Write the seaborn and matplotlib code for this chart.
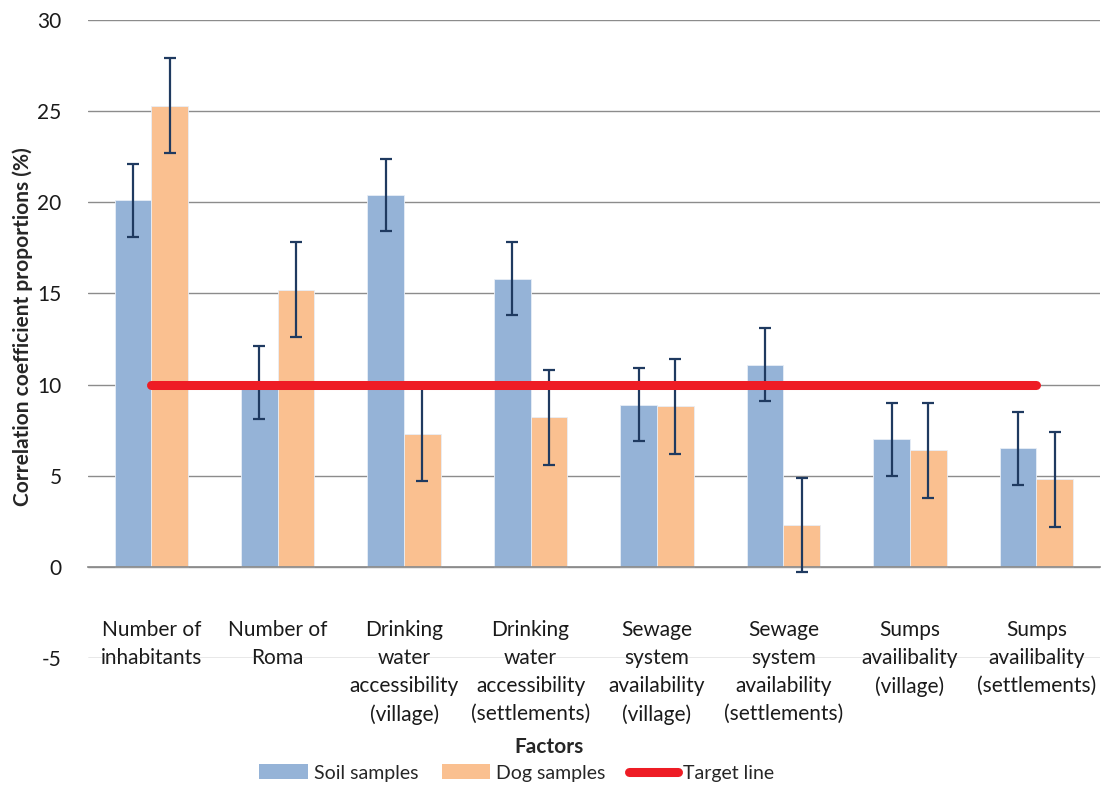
import pandas as pd
import numpy as np
import matplotlib
matplotlib.use("Agg")
import matplotlib.pyplot as plt
import seaborn as sns
from matplotlib.patches import Patch
from matplotlib.lines import Line2D

# data
factors = [
    "Number of\ninhabitants",
    "Number of\nRoma",
    "Drinking\nwater\naccessibility\n(village)",
    "Drinking\nwater\naccessibility\n(settlements)",
    "Sewage\nsystem\navailability\n(village)",
    "Sewage\nsystem\navailability\n(settlements)",
    "Sumps\navailibality\n(village)",
    "Sumps\navailibality\n(settlements)",
]
soil_values = [20.1, 10.1, 20.4, 15.8, 8.9, 11.1, 7.0, 6.5]
dog_values = [25.3, 15.2, 7.3, 8.2, 8.8, 2.3, 6.4, 4.8]
soil_err = [2.0, 2.0, 2.0, 2.0, 2.0, 2.0, 2.0, 2.0]
dog_err = [2.6, 2.6, 2.6, 2.6, 2.6, 2.6, 2.6, 2.6]
target_value = 10

SOIL_COLOR = "#95b3d7"
DOG_COLOR = "#fac090"
ERR_COLOR = "#1f3a60"
TARGET_COLOR = "#ee1c25"
GRID_COLOR = "#8c8c8c"
FS = 15

df = pd.DataFrame({
    "factor": factors * 2,
    "value": soil_values + dog_values,
    "series": ["Soil samples"] * len(factors) + ["Dog samples"] * len(factors),
})

sns.set_theme(style="white")
plt.rcParams["font.family"] = ["Lato", "DejaVu Sans"]
plt.rcParams["axes.unicode_minus"] = False

fig = plt.figure(figsize=(11.04, 7.86), dpi=100)
ax = fig.add_axes([0.0797, 0.1628, 0.9163, 0.8118])

sns.barplot(data=df, x="factor", y="value", hue="series",
            palette=[SOIL_COLOR, DOG_COLOR], saturation=1, width=0.58,
            errorbar=None, edgecolor="#e8eef6", linewidth=0.6, legend=False,
            ax=ax)

# custom error bars on the bar centres
for container, errs in zip(ax.containers, [soil_err, dog_err]):
    xs = [p.get_x() + p.get_width() / 2 for p in container]
    ys = [p.get_height() for p in container]
    ax.errorbar(xs, ys, yerr=errs, fmt="none", ecolor=ERR_COLOR,
                elinewidth=1.6, capsize=4.5, capthick=1.6, zorder=4)

# target line spanning first to last category
xpos = np.arange(len(factors))
ax.plot([xpos[0], xpos[-1]], [target_value, target_value], color=TARGET_COLOR,
        linewidth=6.5, solid_capstyle="round", zorder=5)

ax.set_ylim(-5, 30)
ax.set_xlim(-0.5, len(factors) - 0.5)
ax.set_yticks(range(-5, 31, 5))
ax.yaxis.grid(True, color=GRID_COLOR, linewidth=1)
ax.set_axisbelow(True)
for s in ["top", "right", "left"]:
    ax.spines[s].set_visible(False)
ax.spines["bottom"].set_position(("data", 0))
ax.spines["bottom"].set_color(GRID_COLOR)
ax.tick_params(axis="x", length=0, pad=38, labelsize=FS, labelcolor="#1a1a1a")
ax.tick_params(axis="y", length=0, pad=19, labelsize=FS, labelcolor="#1a1a1a")
for lbl in ax.get_xticklabels():
    lbl.set_linespacing(1.5)
    lbl.set_verticalalignment("top")
ax.set_xlabel("")
ax.set_ylabel("")

fig.text(0.021, 0.585, "Correlation coefficient proportions (%)", rotation=90,
         fontsize=FS, fontweight="bold", ha="center", va="center")
fig.text(549 / 1104, 1 - 747 / 786, "Factors", fontsize=FS,
         fontweight="bold", ha="center", va="center")

handles = [
    Patch(facecolor=SOIL_COLOR, edgecolor="none"),
    Patch(facecolor=DOG_COLOR, edgecolor="none"),
    Line2D([0], [0], color=TARGET_COLOR, linewidth=6.5, solid_capstyle="round"),
]
fig.legend(handles, ["Soil samples", "Dog samples", "Target line"],
           loc="center", bbox_to_anchor=(517 / 1104, 1 - 773 / 786), ncol=3,
           frameon=False, fontsize=14, handlelength=2.5, handleheight=0.8,
           handletextpad=0.3, columnspacing=1.2)

fig.savefig("out.png", dpi=100)
